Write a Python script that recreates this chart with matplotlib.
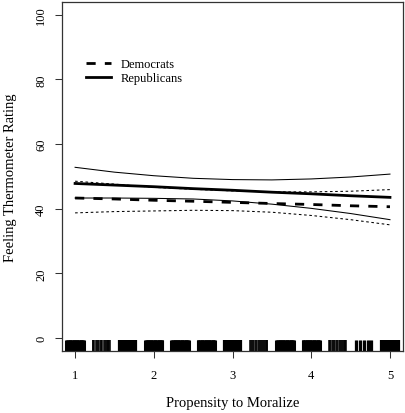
import matplotlib
matplotlib.use("Agg")
import matplotlib.pyplot as plt

# ---- data ----
x_pts = [1.0, 1.5, 2.0, 2.5, 3.0, 3.5, 4.0, 4.5, 5.0]
rep_mean  = [47.8, 47.3, 46.8, 46.2, 45.7, 45.1, 44.6, 44.0, 43.5]
rep_upper = [52.8, 51.3, 50.2, 49.4, 49.0, 48.9, 49.2, 49.8, 50.7]
rep_lower = [43.3, 43.3, 43.2, 43.0, 42.4, 41.4, 40.1, 38.5, 36.6]
dem_mean  = [43.3, 43.0, 42.6, 42.3, 41.95, 41.6, 41.3, 40.9, 40.6]
dem_upper = [48.5, 47.6, 46.6, 46.0, 45.5, 45.2, 45.2, 45.4, 45.9]
dem_lower = [38.7, 39.1, 39.3, 39.5, 39.4, 38.9, 37.9, 36.6, 35.0]

rug_levels = [1.0, 1.333, 1.667, 2.0, 2.333, 2.667, 3.0, 3.333, 3.667, 4.0, 4.333, 4.667, 5.0]
rug_pattern = ["full", "gappy", "some", "full", "full", "full", "some",
               "gappy", "full", "full", "gappy", "sparse", "some"]
rug_offsets = {
    "full":   [-0.11, -0.10, -0.09, -0.08, -0.07, -0.06, -0.05, -0.04, -0.03, -0.02, -0.01, 0.0,
               0.01, 0.02, 0.03, 0.04, 0.05, 0.06, 0.07, 0.08, 0.09, 0.10, 0.11],
    "some":   [-0.11, -0.10, -0.09, -0.08, -0.07, -0.05, -0.04, -0.03, -0.02, -0.01, 0.0,
               0.01, 0.02, 0.04, 0.05, 0.06, 0.07, 0.08, 0.09, 0.10, 0.11],
    "gappy":  [-0.11, -0.10, -0.09, -0.07, -0.055, -0.04, -0.03, -0.01, 0.0, 0.015,
               0.03, 0.045, 0.06, 0.07, 0.08, 0.09, 0.10, 0.11],
    "sparse": [-0.11, -0.10, -0.085, -0.065, -0.05, -0.035, -0.015, 0.0, 0.02, 0.035,
               0.05, 0.065, 0.08, 0.095, 0.11],
}

x_ticks = [1, 2, 3, 4, 5]
y_ticks = [0, 20, 40, 60, 80, 100]
x_label = "Propensity to Moralize"
y_label = "Feeling Thermometer Rating"
legend_labels = ["Democrats", "Republicans"]

# ---- figure ----
plt.rcParams['font.family'] = ['Liberation Serif', 'DejaVu Serif']
fig = plt.figure(figsize=(4.05, 4.14), dpi=100)
ax = fig.add_axes([0.1543, 0.150, 0.8397, 0.8432])
ax.set_xlim(0.84, 5.16)
ax.set_ylim(-4, 104)

frame_col = "#333333"
for s in ax.spines.values():
    s.set_linewidth(0.9)
    s.set_color(frame_col)

# confidence bands
ax.plot(x_pts, rep_upper, color="black", lw=0.75)
ax.plot(x_pts, rep_lower, color="black", lw=0.75)
ax.plot(x_pts, dem_upper, color="black", lw=0.75, dashes=(2.5, 2.5))
ax.plot(x_pts, dem_lower, color="black", lw=0.75, dashes=(2.5, 2.5))
# means
l_dem, = ax.plot(x_pts, dem_mean, color="black", lw=2.0, dashes=(3.3, 3.3))
l_rep, = ax.plot(x_pts, rep_mean, color="black", lw=2.0)

# rug
trans = ax.get_xaxis_transform()
rug_width = {"full": 2.2, "some": 1.6, "gappy": 1.1, "sparse": 0.9}
for lev, pat in zip(rug_levels, rug_pattern):
    for off in rug_offsets[pat]:
        ax.plot([lev + off, lev + off], [0, 0.03], color="black", lw=rug_width[pat],
                transform=trans, solid_capstyle="butt")

ax.set_xticks(x_ticks)
ax.set_yticks(y_ticks)
ax.set_xticklabels([str(t) for t in x_ticks], fontsize=9)
ax.set_yticklabels([str(t) for t in y_ticks], fontsize=9, rotation=90, va="center")
ax.tick_params(axis="both", length=5, width=0.75, color=frame_col, pad=8)
ax.tick_params(axis="y", pad=6)

ax.set_xlabel(x_label, fontsize=10.5, labelpad=11)
ax.set_ylabel(y_label, fontsize=10.5, labelpad=13)

leg = ax.legend([l_dem, l_rep], legend_labels, loc="upper left",
                bbox_to_anchor=(0.069, 0.839), frameon=False, fontsize=9,
                handlelength=2.0, handletextpad=0.75, labelspacing=0.15,
                borderpad=0, borderaxespad=0)

fig.savefig("out.png", dpi=100)
